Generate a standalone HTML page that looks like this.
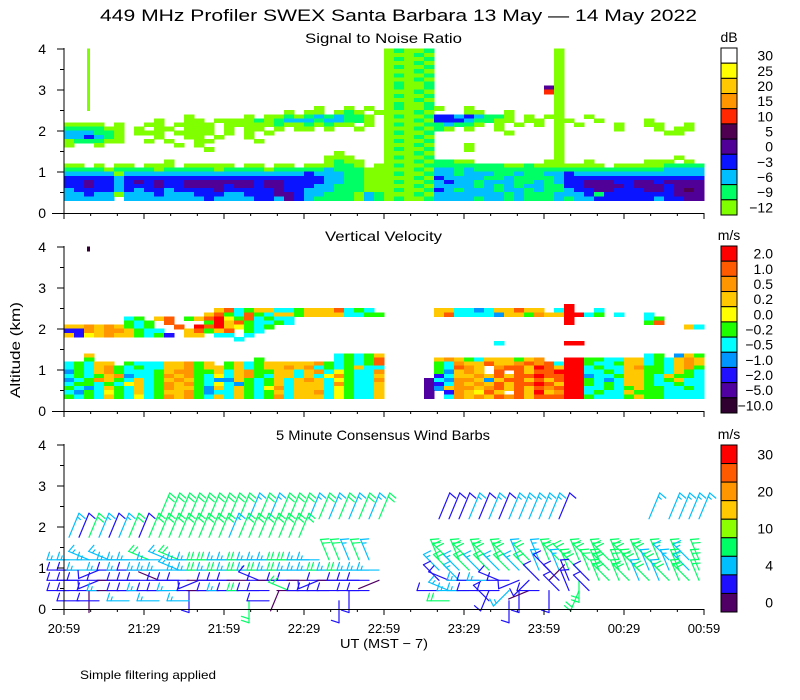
<!DOCTYPE html>
<html><head><meta charset="utf-8"><style>
html,body{margin:0;padding:0;background:#fff;}
svg{display:block;font-family:"Liberation Sans",sans-serif;}
</style></head><body>
<svg id="chart" width="800" height="700" viewBox="0 0 800 700" xmlns="http://www.w3.org/2000/svg">
<rect width="800" height="700" fill="#fff"/>
<text x="100" y="21" font-size="17" textLength="597" lengthAdjust="spacingAndGlyphs">449 MHz Profiler SWEX Santa Barbara 13 May — 14 May 2022</text>
<text x="305" y="43" font-size="14" textLength="157" lengthAdjust="spacingAndGlyphs">Signal to Noise Ratio</text>
<text x="325" y="241" font-size="14" textLength="117" lengthAdjust="spacingAndGlyphs">Vertical Velocity</text>
<text x="276" y="440" font-size="14" textLength="214" lengthAdjust="spacingAndGlyphs">5 Minute Consensus Wind Barbs</text>
<text transform="translate(20,398) rotate(-90)" font-size="14" textLength="96" lengthAdjust="spacingAndGlyphs">Altitude (km)</text>
<text x="340" y="648" font-size="13" textLength="88" lengthAdjust="spacingAndGlyphs">UT  (MST − 7)</text>
<text x="80" y="679" font-size="12" textLength="136" lengthAdjust="spacingAndGlyphs">Simple filtering applied</text>
<g id="layers"></g>
</svg>
<script>
const NS='http://www.w3.org/2000/svg';
const svg=document.getElementById('layers');
// ---------- DATA ----------
const timeLabels=['20:59','21:29','21:59','22:29','22:59','23:29','23:59','00:29','00:59'];
const altTicks=[0,1,2,3,4];
const snrLevels=['30','25','20','15','10','5','0','−3','−6','−9','−12'];
const snrColors=['#ffffff','#ffff00','#ffc800','#ff9600','#ff2800','#500050','#500096','#0a14ff','#00bfff','#00ff64','#80ff00'];
const vvLevels=['2.0','1.0','0.5','0.2','0.0','−0.2','−0.5','−1.0','−2.0','−5.0','−10.0'];
const vvColors=['#ff0000','#ff5a00','#ff9600','#ffc800','#ffff00','#1eff00','#00ffff','#0096ff','#2010ff','#5000a0','#300030'];
const windLevels=['30','','20','','10','','4','','0'];
const windColors=['#ff0000','#ff5a00','#ff9600','#ffc800','#8cff00','#00ff64','#00bfff','#1e10ff','#500064'];
const snrKey={g:'#80ff00',G:'#00ff64',c:'#00bfff',b:'#0a14ff',p:'#500096',d:'#500050',r:'#ff2800',n:'#80ff00',m:'#00ff64'};
const vvKey={R:'#ff0000',O:'#ff5a00',o:'#ff9600',a:'#ffc800',y:'#ffff00',g:'#1eff00',c:'#00ffff',l:'#0096ff',b:'#2010ff',p:'#5000a0',k:'#300030',n:'#300030'};
const narrow={n:1,m:1};
const HA="..n..... ........ ........ ........ gGggG... ........ .g...... ........";
const HB="..n..... ........ ........ ........ gggGg... ........ .g...... ........";
const snrRows=[HA,HB,HA,HB,HA,HB,HA,HB,HA,
"..n..... ........ ........ ........ gGggG... ........ pg...... ........",
"..n..... ........ ........ ........ gggGg... ........ rg...... ........",
HA,HB,HA,
"..n..... ........ ........ .g..g.g. gGggGg.. g....... .g...... ........",
"........ ........ ......g. gg.gGg.g gggGg... gg..g... .g...... ........",
"........ ....g... ..g.ggGg GcGcGGg. gGggGbbc bcGGg.g. gg..g... ........",
"........ .g..gg.g gggGgGcc cGccGGg. gggGgbbb cGGgg.gg .gg..g.. ..g.....",
"gggg.g.. gg.gggg. gggggGgg GgGgg.g. gGggGGcG Gg.g.g.g .g.g...g ..gg..g.",
"GGGGgg.g .gg.ggg. g.gg.g.g g.g..g.. gggGgGg. g..g.... .g.....g ...g.gg.",
"cccGGg.g gg.gggg. g.g.g... ........ gGggG... ....g... .g...... ....gg..",
"ccbcGg.. .g..gg.g ..g..... ........ gggGg... ........ .g...... ........",
"gGGGgg.. g.g..gg. ...g.... ........ gGggG... ........ .g...... ........",
"g..g.... ...g.g.. ........ ........ gggGg... g....... .g...... ........",
"........ ......g. ........ ........ gGggG... g....... .g...... ........",
"........ ........ ........ ...g.... gggGg... ........ .g...... ........",
"........ ........ ........ ..ggg... gGggG... ........ .g...... .....g..",
"........ ..g..... ........ ..gGgg.. gggGgGGg g....... gg..g... ..ggg.g.",
"gg.g.gg. ggg.gggg g.gg.gg. gggGGg.g gGggGGGG GGGGggGg gggggg.g ggggGGGG",
"GGGGgGGG GgGGGGGg GGGGgGGG GGcGGGgg gggGgccG cGGGGGGG GGGGGGGG GGGGcccc",
"cccccgcc cccccccc cccccccc bcccGGgg gGggGccG cccGGcGG ccbccccc cccccccc",
"bbbbbcbb bbbbbbbb bbbbbbbb bbccGGgg gggGgbcc ccGGcGGG Gcbbbbbb bbbbbbbb",
"bbpbbcbp bpbbpppp pppbppbb bbccGGgg gGggGcbc cGcccGGc Gcbbpppb bppbpppp",
"bbpbbcbb bpbbpppp bppbppbb bccGGGgg gggGgccc cGcGcGcc GGbbpppp bpppbppp",
"cbbbbcbc bbcbbbbp bbbbbpbb cccGGGgg gGggGbcG cccGccGc GGcbbppb bbppbpdp",
"ccbccgcc cbcccbbb ccbbbppb ccGGGgcG gggGgccc ccccGcGG GcccbGbb bbbbbppp",
"ccccc.cc ccccccbc cccbbcpb cGGGGgcG gGggGccc cGccGcGG GcGccbbb bbbcbbpp"];
const E="........ ........ ........ ........ ........ ........ ........ ........";
const vvRows=[
"..n..... ........ ........ ........ ........ ........ ........ ........",
E,E,E,E,E,E,E,E,E,E,E,E,E,
"........ ........ ........ ........ ........ ........ ..R..... ........",
"........ .......a Ocgaaccg aaaOcgc. .....aac clcaaOaa .cR..c.. ........",
"........ ......aO gcOgcaag aaaaccgg .....aOc ccclaago aaRRcg.c ..c.....",
"......cg .aO.gaOR ygOcgcc. ........ ........ ........ ..R..... ..cg....",
"......gc g.O...gR aOgccgc. ........ ........ ........ ..R..... ..gO....",
"aaoaoagc g..O.ROR aygcg... ........ ........ ........ ........ ......ac",
"bboaooag cc..aOga O.gc.... ........ ........ ........ ........ ........",
"abyaoaag cgb.aa.c c.c..... ........ ........ ........ ........ ........",
"........ ........ .c...... ........ ........ ........ ........ ........",
"........ ........ ........ ........ ........ ...c.... ..RR.... ........",
E,E,
"..a..... ........ ........ ...cgcga ........ ........ ........ ..cg.lag",
"..g..... ........ ...g.... ...cgcgO .....aoa gcaaagao ..RRggcc aacgcaoa",
"cgcaa.gc ccaaoga. gacgaaaa aogcgcgO .....gco aaOaaoOo OcRRgccg aacgcaoa",
"cgcaogcg ccaaogaa gacgaaoa ocgcgacc .....gcO oa.oOOaR OaRRcgcc aoggcaog",
"lgcaogcc cgaoogga caoggaac aocygcco .....gla oa.O.OaO ORRRccgc aaggcagc",
"cgcgaolc cgoaogcy caogcaac acyogcca .....bca aoaOaOOR OORRlccg aagcaggc",
"lcgoagca cgaoagcl lagcgaca oacygcco ....pclo oalaOOaO aORRgclc aagcgacc",
"cggcgcya cgoaogcy clgcgaca aacogcca ....pbco aoaOaOOR OaRRgcgc aagccgcc",
"gclcagca cgoaagla cagcyoca aacygcca ....plao oaoOaOaO oORRccgc gaggccgc",
"clgcygca cgaaoglc cagcgaca aocygcca ....p.bo ayOa.OaR aoRRcgcc agggcccc",
"gcgcagcy cgoaogca cagcgoca aacygcca ....p.co aoaOoOaO OORRgccc gaggcccc"];
const barbAlts=[2.2,1.75,1.2,0.95,0.7,0.45,0.2];
const barbLens=[28,26,22,22,22,22,22];
const barbDirs=[
"........ .1111111 11111111 11111111 .....111 11111111 11...... ..1.1111",
"11111111 11111111 11111111 ........ ........ ........ ........ ........",
"ccdcdccc dcddcccc cccccccc ccfffff. .....fef efefefef feefefef efefefef",
"cccbcccc cccdcccc cccccccc cccccccc .....eee eeeeeeef effeffef fefeffef",
"cccbcccc cdcccbcc cccdcccc cbcccccb .....ede cccdcbae 2ef8efef efefefef",
"cc8ccccc cccc8ccc ccccc9dc cccc8cc. .....cdc cc9ca8bc 8ef9e... ........",
".c.c..c. .c..c... ..8.c... ...8.... ......c. ..e.8... ........ ........"];
const barbSpeeds=[
"........ .3333333 33232333 23232323 .....111 21212222 21...... ..2.2222",
"21321231 33333333 23333333 ........ ........ ........ ........ ........",
"22222222 32232233 22322233 2233232. .....333 33333232 33333333 33332323",
"11212121 22222232 32323232 22323222 .....232 32323232 12333333 33232323",
"11111011 10111101 11011011 01101110 .....112 21211111 01131333 32323333",
"11012011 21121101 21311030 1111111. .....122 21112101 11131... ........",
".1.1..2. .2..2... ..3.1... ...1.... ......3. ..1.1... ........ ........"];
const barbColors=['#500064','#1e10ff','#00bfff','#00ff64','#80ff00'];

// ---------- SCALES ----------
const X0=64,X1=704,NCOL=64,KM=41;
const panelBase=[213,411,609];
const xCol=c=>X0+(X1-X0)*c/NCOL;
const yAlt=(p,a)=>panelBase[p]-a*KM;
const xTime=i=>X0+i*80;
function clean(s){return s.replace(/ /g,'').padEnd(NCOL,'.').slice(0,NCOL);}
function mk(tag,attrs,parent){const e=document.createElementNS(NS,tag);for(const k in attrs)e.setAttribute(k,attrs[k]);(parent||svg).appendChild(e);return e;}

function heat(p,rows,key,name){
  const g=mk('g',{'shape-rendering':'crispEdges'});
  
  
  const cw=(X1-X0)/NCOL;
  rows.forEach((r,ri)=>{
    const s=clean(r);const alt=3.95-ri*0.1;
    for(let c=0;c<NCOL;c++){const ch=s[c];if(ch==='.'||!key[ch])continue;
      const nw=narrow[ch];
      const el=mk('rect',{x:nw?xCol(c)+3:xCol(c),y:yAlt(p,alt+0.05)-0.3,width:nw?3:cw+0.4,height:0.1*KM+0.6,fill:key[ch]},g);
      
      
    }
  });
}
heat(0,snrRows,snrKey,'snr-heatmap');
heat(1,vvRows,vvKey,'velocity-heatmap');

const bg=mk('g',{'stroke-width':'1.2','stroke-linecap':'round'});


barbAlts.forEach((alt,ri)=>{
  const d=clean(barbDirs[ri]),s=clean(barbSpeeds[ri]);
  for(let c=0;c<NCOL;c++){
    if(d[c]==='.'||s[c]==='.')continue;
    const ang=parseInt(d[c],16)*22.5*Math.PI/180,sp=parseInt(s[c]);
    const col=barbColors[sp];
    const bx=xCol(c)+5,by=yAlt(2,alt);
    const ux=Math.sin(ang),uy=-Math.cos(ang),L=barbLens[ri];
    const tx=bx+ux*L,ty=by+uy*L;
    const g=mk('g',{stroke:col},bg);
    
    
    mk('line',{x1:bx,y1:by,x2:tx,y2:ty},g);
    const fa=ang+Math.PI*0.6;const fx=Math.sin(fa),fy=-Math.cos(fa);
    const nf=[0,1,2,2,3][sp];
    for(let k=0;k<nf;k++){
      const px=tx-ux*k*4,py=ty-uy*k*4;const fl=(sp===2&&k===1)?4:8;
      mk('line',{x1:px,y1:py,x2:px+fx*fl,y2:py+fy*fl},g);
    }
  }
});

[0,1,2].forEach(p=>{
  const g=mk('g',{stroke:'#000','stroke-width':'1',fill:'none'});
  
  
  const b=panelBase[p];
  mk('line',{x1:X0,y1:yAlt(p,4)-1,x2:X0,y2:b},g);
  mk('line',{x1:52,y1:b+0.5,x2:X1,y2:b+0.5},g);
  for(let h=1;h<=8;h+=1){const yy=yAlt(p,h/2);mk('line',{x1:X0-(h%2?4:7),y1:yy,x2:X0,y2:yy},g);}
  for(let m=0;m<=24;m++){const xx=X0+m*80/3;mk('line',{x1:xx,y1:b,x2:xx,y2:b+(m%3?3:6)},g);}
  altTicks.forEach(a=>{const t=mk('text',{x:46,y:yAlt(p,a)+5,'font-size':'14','text-anchor':'end',fill:'#000',stroke:'none'});t.textContent=a;
    
    });
});
timeLabels.forEach((l,i)=>{const t=mk('text',{x:xTime(i),y:633,'font-size':'13','text-anchor':'middle'});t.textContent=l;
  
  });

function cbar(top,bot,colors,labels,unit,name){
  const g=mk('g',{});
  
  
  const n=colors.length,h=(bot-top)/n;
  colors.forEach((c,i)=>{const r=mk('rect',{x:721,y:top+i*h,width:16,height:h,fill:c,stroke:'#000','stroke-width':'1'},g);
    
    
    if(labels[i]){const t=mk('text',{x:773,y:top+i*h+h/2+5,'font-size':'14','text-anchor':'end'},g);t.textContent=labels[i];
      
      }});
  const u=mk('text',{x:729,y:top-6,'font-size':'14','text-anchor':'middle'},g);u.textContent=unit;
  
  
}
cbar(48,215,snrColors,snrLevels,'dB','snr-colorbar');
cbar(246,413,vvColors,vvLevels,'m/s','velocity-colorbar');
cbar(445,612,windColors,windLevels,'m/s','wind-colorbar');
</script>
</body></html>
